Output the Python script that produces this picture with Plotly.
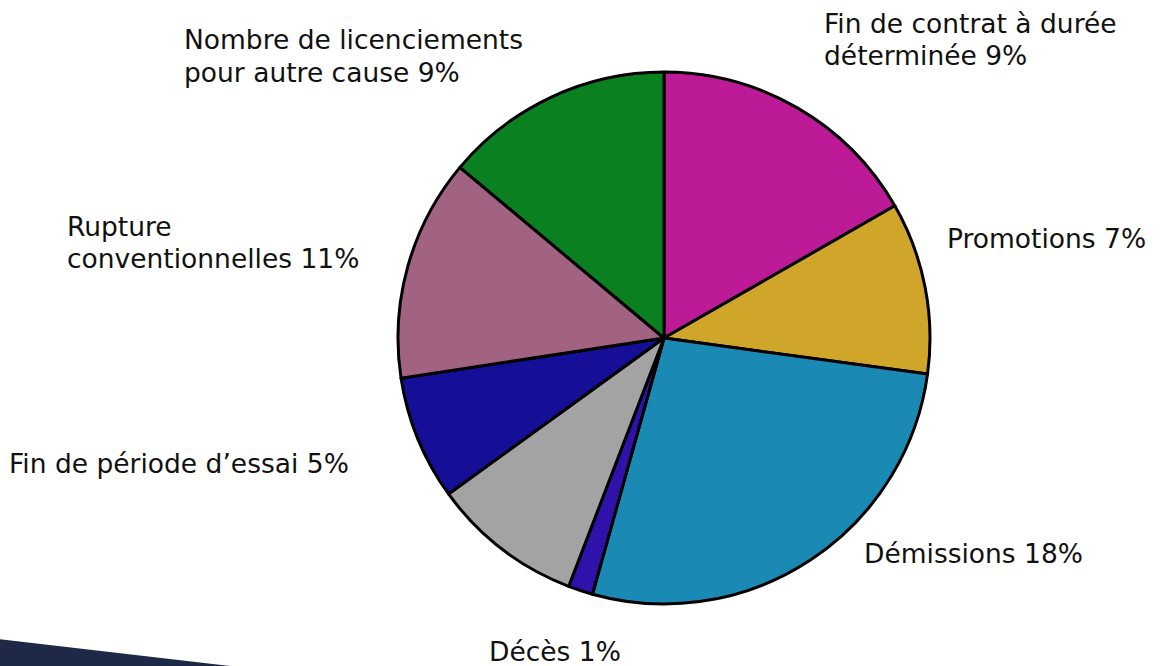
import plotly.graph_objects as go

W, H = 1160, 666

# slice sizes (degrees of arc), clockwise from 12 o'clock
categories = ["Fin de contrat à durée déterminée", "Promotions", "Démissions", "Décès",
              "Autre", "Fin de période d’essai", "Rupture conventionnelles",
              "Nombre de licenciements pour autre cause"]
values = [60.2, 37.6, 97.8, 5.4, 33.1, 27.2, 48.6, 50.1]
colors = ["#BC1A96", "#CFA52A", "#1A8AB5", "#2E12AA", "#A3A3A3", "#140F96", "#A26383", "#0A8020"]

label_texts = ["Fin de contrat à durée<br>déterminée 9%", "Promotions 7%", "Démissions 18%",
               "Décès 1%", "Fin de période d’essai 5%", "Rupture<br>conventionnelles 11%",
               "Nombre de licenciements<br>pour autre cause 9%"]
# label anchor positions in pixels (left x, vertical centre y of first line)
label_pos = [(822, 24), (945, 238), (862, 553), (487, 651), (7, 463), (65, 227), (182, 40)]
LINE_GAP = 32

cx, cy, r = 664, 338, 266

fig = go.Figure(go.Pie(
    labels=categories, values=values, sort=False, direction="clockwise", rotation=0,
    marker=dict(colors=colors, line=dict(color="black", width=3)),
    textinfo="none", hoverinfo="label+percent", showlegend=False,
    domain=dict(x=[(cx - r) / W, (cx + r) / W], y=[1 - (cy + r) / H, 1 - (cy - r) / H]),
))

for t, (px, py) in zip(label_texts, label_pos):
    for i, line in enumerate(t.split("<br>")):
        fig.add_annotation(x=px / W, y=1 - (py + i * LINE_GAP) / H, xref="paper", yref="paper",
                           text=line, showarrow=False, xanchor="left", yanchor="middle",
                           align="left", font=dict(family="DejaVu Sans", size=26.5, color="#111111"))

fig.add_shape(type="path", xref="paper", yref="paper",
              path=f"M -0.01 {1 - 638 / H} L {230 / W} 0 L -0.01 0 Z",
              fillcolor="#1E2847", line=dict(width=0), layer="below")

fig.update_layout(width=W, height=H, margin=dict(l=0, r=0, t=0, b=0),
                  paper_bgcolor="white", plot_bgcolor="white")

fig.write_html("out.html", config={"displayModeBar": False},
               post_script="document.body.style.margin='0';document.body.style.overflow='hidden';")
